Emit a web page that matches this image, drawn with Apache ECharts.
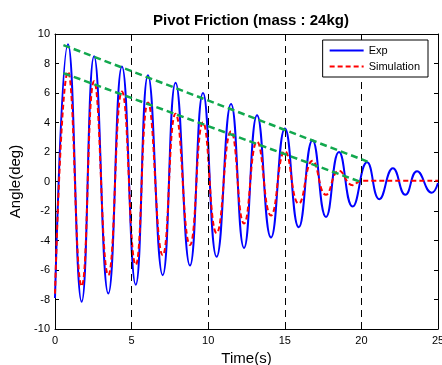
<!DOCTYPE html>
<html>
<head>
<meta charset="utf-8">
<script src="https://cdn.jsdelivr.net/npm/echarts@6/dist/echarts.min.js"></script>
<style>
  html, body { margin: 0; padding: 0; background: #fff; }
  #chart { width: 442px; height: 365px; }
</style>
</head>
<body>
<div id="chart"></div>
<script>
// peaks / troughs (time in s, angle in deg)
var expTimes = [0, 0.85, 1.74, 2.55, 3.48, 4.37, 5.27, 6.07, 7.03, 7.87, 8.81, 9.66, 10.55, 11.49, 12.34,
  13.19, 14.10, 15.01, 15.91, 16.81, 17.69, 18.54, 19.43, 20.37, 21.17, 22.06, 22.87, 23.63, 24.59, 25];
var expValues = [-7.9, 9.3, -8.15, 8.5, -7.6, 7.8, -7.0, 7.2, -6.35, 6.7, -5.7, 6.0, -5.1, 5.25, -4.5,
  4.5, -3.8, 3.6, -3.1, 2.8, -2.4, 2.0, -1.7, 1.3, -1.2, 0.9, -0.9, 0.7, -0.76, -0.1];

var simTimes = [0, 0.85, 1.74, 2.55, 3.48, 4.37, 5.27, 6.07, 7.03, 7.87, 8.81, 9.66, 10.55, 11.49, 12.34,
  13.19, 14.10, 15.01, 15.91, 16.81, 17.69, 18.54, 19.43, 20.0, 25];
var simValues = [-7.6, 7.45, -7.1, 6.8, -6.35, 6.1, -5.65, 5.35, -5.0, 4.6, -4.3, 4.0, -3.5, 3.4, -2.85,
  2.7, -2.3, 2.07, -1.5, 1.4, -0.9, 0.73, -0.25, 0.05, 0.05];

// green envelope lines
var upperEnvelope = [[0.55, 9.25], [20.4, 1.35]];
var lowerEnvelope = [[0.55, 7.35], [20.0, -0.05]];

// vertical dashed guides
var guideTimes = [5, 10, 15, 20];

var xTicks = [0, 5, 10, 15, 20, 25];
var yTicks = [-10, -8, -6, -4, -2, 0, 2, 4, 6, 8, 10];

var font = "'Liberation Sans', Arial, sans-serif";

function pairs(xs, ys) {
  return xs.map(function (x, i) { return [x, ys[i]]; });
}

var myChart = echarts.init(document.getElementById("chart"), null, { renderer: "canvas" });

var frameLine = { show: true, onZero: false, lineStyle: { color: "#000", width: 1 } };
var frameTick = { show: true, inside: true, length: 4, lineStyle: { color: "#000" } };

var option = {
  animation: false,
  title: {
    text: "Pivot Friction (mass : 24kg)",
    left: 246,
    textAlign: "center",
    top: 8,
    textStyle: { fontFamily: font, fontSize: 15, fontWeight: "bold", color: "#000" },
  },
  legend: {
    data: ["Exp", "Simulation"],
    orient: "vertical",
    right: 14,
    top: 40,
    z: 20,
    itemWidth: 34,
    itemHeight: 10,
    itemGap: 5,
    padding: [5, 8, 5, 6],
    borderColor: "#000",
    borderWidth: 1,
    backgroundColor: "#fff",
    itemStyle: { opacity: 0 },
    textStyle: { fontFamily: font, fontSize: 11, color: "#000" },
  },
  grid: { left: 55, right: 4, top: 34, bottom: 36, outerBoundsMode: "none" },
  xAxis: [
    {
      type: "value",
      min: xTicks[0],
      max: xTicks[xTicks.length - 1],
      interval: 5,
      name: "Time(s)",
      nameLocation: "middle",
      nameGap: 21,
      nameTextStyle: { fontFamily: font, fontSize: 15, color: "#000" },
      axisLine: frameLine,
      axisTick: frameTick,
      axisLabel: { fontFamily: font, fontSize: 11, color: "#000", margin: 6 },
      splitLine: { show: false },
    },
    {
      type: "value",
      position: "top",
      min: xTicks[0],
      max: xTicks[xTicks.length - 1],
      interval: 5,
      axisLine: frameLine,
      axisTick: frameTick,
      axisLabel: { show: false },
      splitLine: { show: false },
    },
  ],
  yAxis: [
    {
      type: "value",
      min: yTicks[0],
      max: yTicks[yTicks.length - 1],
      interval: 2,
      name: "Angle(deg)",
      nameLocation: "middle",
      nameRotate: 90,
      nameGap: 26,
      nameTextStyle: { fontFamily: font, fontSize: 15, color: "#000" },
      axisLine: frameLine,
      axisTick: frameTick,
      axisLabel: { fontFamily: font, fontSize: 11, color: "#000", margin: 5 },
      splitLine: { show: false },
    },
    {
      type: "value",
      position: "right",
      min: yTicks[0],
      max: yTicks[yTicks.length - 1],
      interval: 2,
      axisLine: frameLine,
      axisTick: frameTick,
      axisLabel: { show: false },
      splitLine: { show: false },
    },
  ],
  series: [
    {
      name: "Exp",
      type: "line",
      data: pairs(expTimes, expValues),
      smooth: 0.5,
      showSymbol: false,
      symbol: "none",
      lineStyle: { color: "#0000ff", width: 2 },
      itemStyle: { color: "#0000ff" },
      z: 3,
      markLine: {
        silent: true,
        symbol: "none",
        label: { show: false },
        lineStyle: { color: "#000", type: [7, 5], width: 1 },
        data: guideTimes.map(function (t) { return { xAxis: t }; }),
      },
    },
    {
      name: "Simulation",
      type: "line",
      data: pairs(simTimes, simValues),
      smooth: 0.5,
      showSymbol: false,
      symbol: "none",
      lineStyle: { color: "#ff0000", width: 2, type: [5, 3] },
      itemStyle: { color: "#ff0000" },
      z: 4,
    },
    {
      name: "upper",
      type: "line",
      data: upperEnvelope,
      showSymbol: false,
      symbol: "none",
      lineStyle: { color: "#12a84e", width: 2.5, type: [7, 4] },
      z: 5,
    },
    {
      name: "lower",
      type: "line",
      data: lowerEnvelope,
      showSymbol: false,
      symbol: "none",
      lineStyle: { color: "#12a84e", width: 2.5, type: [7, 4] },
      z: 5,
    },
  ],
};

myChart.setOption(option);
window.addEventListener("resize", myChart.resize);
</script>
</body>
</html>
